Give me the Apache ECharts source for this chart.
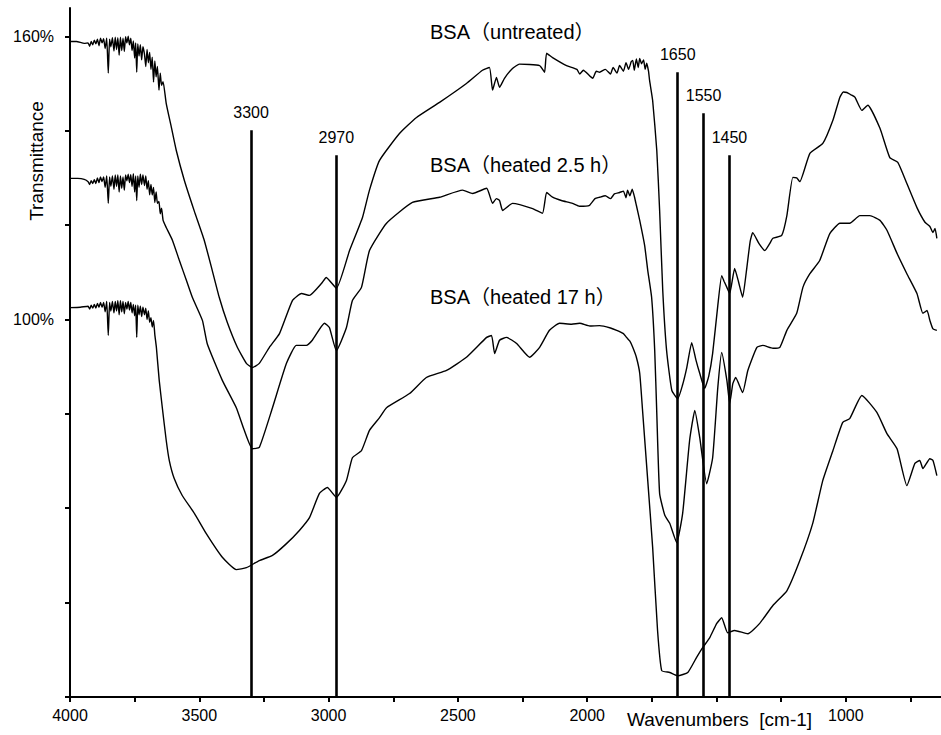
<!DOCTYPE html>
<html><head><meta charset="utf-8">
<script src="https://cdn.jsdelivr.net/npm/echarts@6/dist/echarts.min.js"></script>
<style>html,body{margin:0;padding:0;background:#fff}#c{width:941px;height:735px}</style>
</head><body><div id="c"></div>
<script>
// ---- data (wavenumber cm-1, transmittance %) ----
const wnUntreated = [4000,3975,3945,3930,3924,3918,3912,3906,3900,3894,3888,3882,3876,3870,3864,3858,3852,3847,3842,3836,3830,3825,3820,3815,3810,3805,3800,3795,3790,3785,3780,3775,3770,3765,3760,3755,3750,3746,3742,3738,3733,3728,3723,3718,3712,3707,3702,3697,3692,3687,3682,3677,3672,3667,3662,3656,3651,3646,3640,3628,3608,3589,3558,3519,3481,3450,3423,3392,3353,3318,3295,3268,3229,3190,3140,3105,3074,3028,3009,2970,2919,2869,2842,2803,2726,2660,2571,2467,2405,2378,2366,2351,2339,2320,2289,2262,2184,2165,2157,2134,2080,2040,2029,2015,1990,1979,1965,1952,1930,1910,1900,1885,1875,1860,1850,1840,1830,1824,1818,1810,1803,1797,1790,1782,1776,1770,1763,1759,1747,1731,1720,1708,1693,1673,1650,1632,1615,1596,1580,1565,1546,1530,1515,1495,1480,1470,1460,1449,1430,1415,1399,1385,1370,1360,1335,1313,1295,1282,1248,1228,1205,1190,1178,1139,1089,1050,1023,1010,996,980,965,938,915,868,830,799,764,725,694,675,663,655,648];
const trUntreated = [158.9,158.9,158.5,158.6,157.9,158.9,158.2,159.2,158.4,159.4,158.0,159.6,158.6,159.5,157.4,159.6,152.2,159.4,157.8,159.7,156.9,159.8,157.2,159.7,156.0,159.8,157.0,159.6,156.8,159.9,158.6,160.0,158.2,159.6,157.0,159.0,155.4,158.6,152.4,158.4,155.8,158.2,155.0,157.8,156.2,153.6,157.2,154.4,156.6,153.0,155.6,150.3,154.8,151.4,153.6,148.6,152.2,149.6,150.4,145.8,140.7,135.8,129.5,122.9,116.8,110.4,104.7,99.4,94.1,90.7,89.8,90.7,94.1,97.0,104.0,105.5,105.1,107.6,108.9,106.6,114.6,121.6,127.4,133.7,139.4,142.8,146.0,150.0,152.8,153.4,148.6,151.3,149.2,151.1,153.2,154.1,153.8,152.4,156.4,155.5,153.8,153.0,152.0,152.8,151.6,151.1,152.6,152.4,153.0,152.0,153.4,152.2,153.8,152.6,154.4,153.0,154.6,154.9,152.8,155.2,153.4,155.3,154.2,155.0,153.0,154.3,152.6,150.7,146.4,135.8,123.1,106.2,93.4,85.0,83.2,86.0,89.8,95.1,91.5,88.6,85.4,88.0,92.8,103.0,109.3,108.0,106.8,105.5,110.8,108.0,104.7,110.0,116.5,118.4,116.0,114.6,116.0,117.2,117.8,122.0,130.1,130.0,129.2,135.2,137.3,142.2,147.1,148.2,148.1,147.6,147.1,144.3,145.4,140.5,134.3,133.3,128.8,123.7,120.6,119.7,118.4,119.3,117.2];

const wnHeated25 = [4000,3970,3945,3930,3924,3918,3912,3906,3900,3894,3888,3882,3876,3870,3864,3858,3852,3847,3842,3836,3830,3825,3820,3815,3810,3805,3800,3795,3790,3785,3780,3775,3770,3765,3760,3755,3750,3746,3742,3738,3733,3728,3723,3718,3712,3707,3702,3697,3692,3687,3682,3677,3672,3667,3662,3656,3651,3646,3640,3628,3604,3577,3550,3527,3488,3469,3411,3357,3326,3295,3268,3217,3163,3125,3086,3063,3016,2997,2970,2931,2908,2873,2842,2776,2676,2571,2482,2443,2389,2366,2351,2339,2327,2289,2211,2173,2157,2134,2100,2057,2030,1991,1970,1952,1930,1910,1895,1875,1860,1850,1844,1835,1826,1817,1810,1797,1778,1766,1751,1739,1731,1720,1700,1681,1654,1631,1604,1584,1565,1538,1515,1495,1480,1460,1449,1437,1426,1399,1379,1344,1321,1282,1255,1228,1190,1166,1139,1101,1062,1023,985,946,907,868,841,802,764,725,702,686,675,663,648];
const trHeated25 = [129.9,129.9,129.7,129.2,128.6,129.4,128.8,129.6,128.8,130.0,129.0,130.2,129.2,130.2,128.0,130.4,124.6,130.2,128.2,130.4,127.6,130.6,128.2,130.6,127.0,130.4,127.8,130.2,127.4,130.6,129.4,130.8,129.0,130.7,128.2,130.9,127.0,130.4,125.2,130.4,128.0,130.8,128.6,130.6,128.4,130.4,127.6,129.4,126.4,128.6,126.4,128.0,124.8,127.0,124.6,125.0,122.4,123.6,121.0,119.5,116.8,112.5,108.3,104.7,99.8,94.8,87.1,81.3,76.5,72.6,72.9,81.3,90.7,94.5,94.5,95.6,99.2,98.3,93.4,98.3,104.0,106.8,114.6,120.4,124.8,125.9,127.4,126.7,127.8,124.6,125.6,125.2,123.1,124.6,123.5,122.5,126.9,125.9,125.2,124.6,124.0,124.2,125.6,125.9,126.2,125.6,126.6,126.9,127.2,125.8,127.4,126.2,127.6,125.9,124.2,121.0,115.7,110.4,104.7,93.4,80.1,63.1,58.5,56.8,52.7,58.9,74.4,80.7,75.0,65.2,70.7,85.6,93.0,87.1,82.2,86.4,87.7,84.5,89.2,94.1,94.5,93.9,94.1,97.7,101.3,106.8,109.7,112.5,118.2,120.4,120.4,122.0,122.0,121.0,118.9,114.0,109.7,105.5,101.3,101.9,99.8,98.0,97.7];

const wnHeated17 = [4000,3960,3930,3924,3918,3912,3906,3900,3894,3888,3882,3876,3870,3864,3858,3852,3847,3842,3836,3830,3825,3820,3815,3810,3805,3800,3795,3790,3785,3780,3775,3770,3765,3760,3755,3750,3746,3742,3738,3733,3728,3723,3718,3712,3707,3702,3697,3692,3687,3682,3677,3672,3666,3655,3643,3628,3616,3597,3566,3519,3473,3411,3357,3318,3268,3217,3163,3113,3074,3036,3005,2970,2931,2908,2873,2842,2803,2776,2687,2622,2544,2467,2389,2370,2358,2339,2312,2273,2223,2184,2146,2107,2060,2029,1990,1952,1910,1886,1860,1848,1835,1824,1810,1797,1786,1766,1747,1728,1712,1681,1650,1611,1577,1553,1526,1499,1480,1457,1430,1379,1333,1282,1228,1178,1128,1089,1050,1012,985,938,880,841,802,764,733,714,702,675,663,648];
const trHeated17 = [102.5,102.6,102.8,102.2,103.0,102.4,103.2,102.4,103.4,102.6,103.6,102.6,103.6,101.6,103.8,96.6,103.6,101.8,103.8,101.4,103.8,101.8,104.0,101.0,104.0,101.6,103.8,101.2,103.6,102.2,103.8,102.0,103.6,101.4,103.2,100.8,103.0,96.2,103.0,101.0,102.8,100.6,102.6,101.0,102.4,100.0,101.8,99.4,100.4,98.4,99.8,96.8,94.1,87.1,81.3,74.4,70.1,66.3,62.7,58.9,54.6,49.6,47.0,47.4,48.9,50.0,52.5,55.3,58.0,63.1,64.4,62.3,65.9,70.7,72.2,76.5,79.2,81.3,84.3,87.7,89.2,92.0,96.2,96.6,92.8,95.6,96.2,94.9,92.0,94.1,97.7,99.2,99.0,99.2,98.6,98.7,98.2,97.7,97.0,96.2,95.4,94.1,92.0,88.6,80.7,65.9,51.7,34.1,25.6,25.2,24.5,25.2,28.4,30.5,32.6,35.6,36.8,33.6,34.1,33.4,35.6,39.4,42.5,48.9,56.8,65.9,72.2,78.2,79.0,83.9,80.3,75.8,72.6,64.8,69.5,70.1,68.4,70.5,70.1,66.9];

const seriesNames = ['BSA（untreated）', 'BSA（heated 2.5 h）', 'BSA（heated 17 h）'];
const markerWavenumbers = [3300, 2970, 1650, 1550, 1450];
const markerTops = [140.1, 134.8, 152.4, 143.7, 134.8];
const xTickValues = [4000,3750,3500,3250,3000,2750,2500,2250,2000,1750,1500,1250,1000,750];
const xLabelValues = [4000,3500,3000,2500,2000,1000];
const yTickValues = [20,40,60,80,100,120,140,160];
const yLabelValues = [100,160];

const FONT = '"Liberation Sans", Arial, "Noto Sans CJK SC", sans-serif';
const zip = (a, b) => a.map((v, i) => [v, b[i]]);

const chart = echarts.init(document.getElementById('c'), null, {renderer: 'svg'});
const lineBase = {type: 'line', showSymbol: false, symbol: 'none', smooth: 0.15, silent: true,
  lineStyle: {color: '#000', width: 1.4}, z: 3};

chart.setOption({
  animation: false,
  backgroundColor: '#fff',
  grid: {left: 70, right: 0, top: 8, bottom: 38, containLabel: false},
  xAxis: {
    type: 'value', inverse: true, min: 632, max: 4000,
    axisLine: {show: true, lineStyle: {color: '#000', width: 2}},
    axisTick: {show: true, customValues: xTickValues, length: 5, lineStyle: {color: '#000', width: 2}},
    axisLabel: {customValues: xLabelValues, formatter: v => String(v), color: '#000', fontSize: 16, fontFamily: FONT, margin: 10},
    splitLine: {show: false}
  },
  yAxis: {
    type: 'value', min: 20, max: 166,
    axisLine: {show: true, lineStyle: {color: '#000', width: 2}},
    axisTick: {show: true, customValues: yTickValues, length: 5, lineStyle: {color: '#000', width: 2}},
    axisLabel: {customValues: yLabelValues, formatter: v => v + '%', color: '#000', fontSize: 16, fontFamily: FONT, margin: 16},
    splitLine: {show: false}
  },
  series: [
    Object.assign({}, lineBase, {name: seriesNames[0], data: zip(wnUntreated, trUntreated),
      markLine: {
        symbol: 'none', silent: true, animation: false,
        lineStyle: {color: '#000', width: 2.6, type: 'solid'},
        label: {show: true, position: 'end', formatter: '{b}', color: '#000', fontSize: 16, fontFamily: FONT, distance: 10},
        data: markerWavenumbers.map((w, i) => [{coord: [w, 20], name: String(w)}, {coord: [w, markerTops[i]]}])
      }}),
    Object.assign({}, lineBase, {name: seriesNames[1], data: zip(wnHeated25, trHeated25)}),
    Object.assign({}, lineBase, {name: seriesNames[2], data: zip(wnHeated17, trHeated17)})
  ],
  graphic: [
    {type: 'text', x: 430, y: 32, style: {text: seriesNames[0], fill: '#000', font: '20px ' + FONT, align: 'left', verticalAlign: 'middle'}},
    {type: 'text', x: 430, y: 165, style: {text: seriesNames[1], fill: '#000', font: '20px ' + FONT, align: 'left', verticalAlign: 'middle'}},
    {type: 'text', x: 430, y: 297, style: {text: seriesNames[2], fill: '#000', font: '20px ' + FONT, align: 'left', verticalAlign: 'middle'}},
    {type: 'text', x: 36, y: 161, rotation: Math.PI / 2, style: {text: 'Transmittance', fill: '#000', font: '19px ' + FONT, align: 'center', verticalAlign: 'middle'}},
    {type: 'text', x: 627, y: 719, style: {text: 'Wavenumbers  [cm-1]', fill: '#000', font: '19px ' + FONT, align: 'left', verticalAlign: 'middle'}}
  ]
});
</script></body></html>
